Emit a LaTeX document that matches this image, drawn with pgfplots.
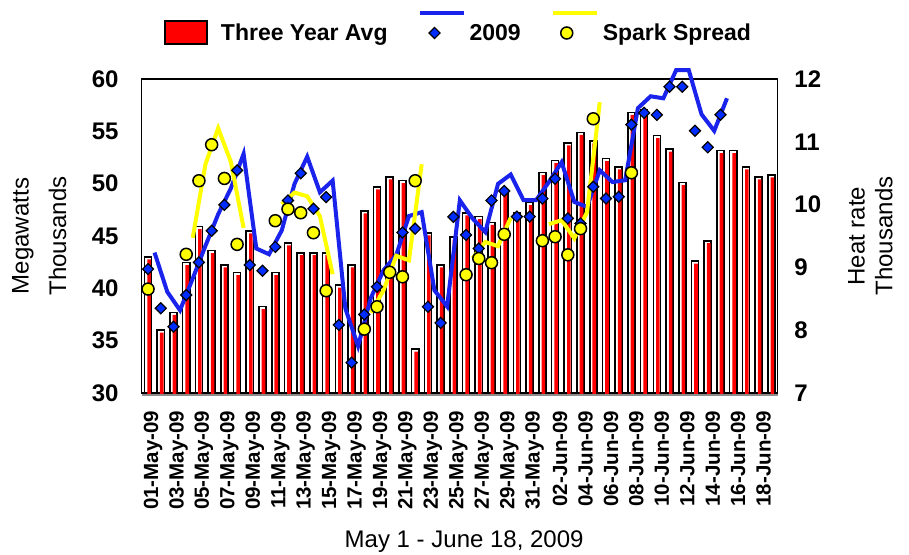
\documentclass[border=0pt]{standalone}
\usepackage{fontspec}
\setmainfont{Liberation Sans}
\usepackage{pgfplots}
\usepackage{pgfplotstable}
\pgfplotsset{compat=1.18}

\definecolor{barred}{RGB}{255,0,0}
\definecolor{lineblue}{RGB}{25,35,235}
\definecolor{diablue}{RGB}{0,45,255}
\definecolor{sparkyel}{RGB}{255,255,0}

% three year average, thousands of MW (01-May .. 19-Jun)
\pgfplotstableread{
idx avg
0 43.0
1 36.0
2 37.7
3 42.45
4 45.9
5 43.6
6 42.25
7 41.5
8 45.5
9 38.25
10 41.5
11 44.35
12 43.4
13 43.4
14 43.4
15 40.3
16 42.25
17 47.4
18 49.7
19 50.65
20 50.3
21 34.2
22 45.3
23 42.25
24 44.9
25 47.2
26 46.85
27 46.3
28 49.3
29 47.2
30 48.2
31 51.05
32 52.2
33 53.9
34 54.9
35 54.1
36 52.4
37 51.6
38 56.8
39 57.1
40 54.6
41 53.3
42 50.1
43 42.6
44 44.55
45 53.15
46 53.15
47 51.6
48 50.66
49 50.85
}\avgtable

% 2009
\pgfplotstableread{
idx mw
0 41.84
1 38.09
2 36.33
3 39.36
4 42.48
5 45.5
6 47.98
7 51.27
8 42.23
9 41.68
10 43.96
11 48.4
12 51.0
13 47.6
14 48.72
15 36.5
16 32.9
17 37.5
18 40.15
19 41.6
20 45.33
21 45.7
22 38.24
23 36.69
24 46.83
25 45.1
26 43.8
27 48.4
28 49.3
29 46.85
30 46.85
31 48.58
32 50.47
33 46.68
34 46.2
35 49.7
36 48.58
37 48.75
38 55.64
39 56.77
40 56.58
41 59.26
42 59.26
43 55.05
44 53.47
45 56.58
}\loadtable

% spark spread, gaps where no value
\pgfplotstableread{
idx spark
0 39.93
1 nan
2 nan
3 43.25
4 50.28
5 53.72
6 50.5
7 44.2
8 nan
9 nan
10 46.46
11 47.57
12 47.22
13 45.31
14 39.77
15 nan
16 nan
17 36.1
18 38.24
19 41.53
20 41.1
21 50.28
22 nan
23 nan
24 nan
25 41.3
26 42.85
27 42.45
28 45.16
29 nan
30 nan
31 44.55
32 44.93
33 43.2
34 45.7
35 56.2
36 nan
37 nan
38 51.04
}\sparktable

\pgfplotsset{
  base/.style={
    scale only axis, width=636pt, height=314pt,
    at={(141.7pt,161pt)}, anchor=south west,
    xmin=-0.5, xmax=49.5,
    xtick style={draw=none}, ytick style={draw=none},
    /pgf/number format/assume math mode=true,
  },
}

\begin{document}
\begin{tikzpicture}
\useasboundingbox (0,0) rectangle (909pt,554pt);

% bars + left axis
\begin{axis}[base,
    ymin=30, ymax=60, ytick={30,35,...,60},
    axis line style={line width=1.5pt},
    yticklabel style={font=\bfseries\fontsize{24}{28}\selectfont, inner sep=0pt},
    yticklabel shift=23pt,
    xtick={0,2,...,48},
    xticklabels={01-May-09,03-May-09,05-May-09,07-May-09,09-May-09,11-May-09,13-May-09,15-May-09,17-May-09,19-May-09,21-May-09,23-May-09,25-May-09,27-May-09,29-May-09,31-May-09,02-Jun-09,04-Jun-09,06-Jun-09,08-Jun-09,10-Jun-09,12-Jun-09,14-Jun-09,16-Jun-09,18-Jun-09},
    xticklabel style={xshift=5pt, rotate=90, anchor=east, inner sep=0pt,
      font=\bfseries\fontsize{20.5}{24}\selectfont},
    xticklabel shift=17.5pt,
    ylabel={Megawatts\\[10pt]Thousands},
    ylabel style={at={(axis description cs:-0.118,0.5)}, anchor=south,
      align=center, inner sep=0pt, font=\fontsize{24}{27.6}\selectfont},
    xlabel={May 1 - June 18, 2009},
    xlabel style={at={(axis description cs:0.507,-0.4936)}, anchor=base,
      inner sep=0pt, font=\fontsize{24}{27.6}\selectfont},
    after end axis/.code={
      \draw[black!45, line width=1.6pt]
        ([yshift=-2.2pt]rel axis cs:0,0) -- ([yshift=-2.2pt]rel axis cs:1,0);},
  ]
  \addplot[ybar, bar width=7.1pt, bar shift=0pt, fill=white, draw=black,
    line width=1.6pt] table[x=idx, y=avg] {\avgtable};
  \addplot[ybar, bar width=3.6pt, bar shift=1pt, fill=barred, draw=none,
    yshift=-2.5pt] table[x=idx, y=avg] {\avgtable};
\end{axis}

% 2009 and spark spread series, no clipping
\begin{axis}[base,
    ymin=30, ymax=60, clip=false,
    hide axis, unbounded coords=jump,
    legend style={at={(axis description cs:0.0351,1.1465)}, anchor=west,
      draw=none, fill=none, inner sep=0pt,
      font=\bfseries\fontsize{23}{27}\selectfont,
      nodes={inner sep=0pt},
      column sep=4pt,
      /tikz/every even column/.append style={column sep=30pt}},
    legend columns=3,
  ]
  \addplot[forget plot, lineblue, line width=4pt, xshift=6.5pt, yshift=16.5pt]
    table[x=idx, y=mw] {\loadtable};
  \addplot[forget plot, only marks, mark=square*, mark size=3.9pt,
    mark options={rotate=45, fill=diablue, draw=black, line width=1.2pt}]
    table[x=idx, y=mw] {\loadtable};
  \addplot[forget plot, sparkyel, line width=4pt, xshift=6.5pt, yshift=16.5pt]
    table[x=idx, y=spark] {\sparktable};
  \addplot[forget plot, only marks, mark=*, mark size=6pt,
    mark options={fill=sparkyel, draw=black, line width=1.5pt}]
    table[x=idx, y=spark] {\sparktable};

  \addlegendimage{legend image code/.code={
    \draw[fill=barred, draw=black, line width=1.5pt] (0pt,-11pt) rectangle (42pt,12pt);
    \path[draw=none] (52pt,-22pt) (52pt,22pt);}}
  \addlegendentry{Three Year Avg}
  \addlegendimage{legend image code/.code={
    \draw[lineblue, line width=4pt] (0pt,20pt) -- (44pt,20pt);
    \path[draw=none] (0pt,-22pt);
    \path plot[mark=square*, mark size=3.9pt,
      mark options={rotate=45, fill=diablue, draw=black, line width=1.2pt}]
      coordinates {(15pt,0pt)};}}
  \addlegendentry{2009}
  \addlegendimage{legend image code/.code={
    \draw[sparkyel, line width=4pt] (0pt,20pt) -- (44pt,20pt);
    \path[draw=none] (0pt,-22pt);
    \path plot[mark=*, mark size=6pt,
      mark options={fill=sparkyel, draw=black, line width=1.5pt}]
      coordinates {(14pt,0pt)};}}
  \addlegendentry{Spark Spread}
\end{axis}

% right axis
\begin{axis}[base,
    ymin=7, ymax=12, ytick={7,8,...,12},
    axis x line=none, axis y line*=right,
    axis line style={draw=none},
    yticklabel style={font=\bfseries\fontsize{24}{28}\selectfont, inner sep=0pt},
    yticklabel shift=16.5pt,
    ylabel={Heat rate\\Thousands},
    ylabel style={at={(axis description cs:1.1105,0.5)}, anchor=north, rotate=0,
      align=center, inner sep=0pt, font=\fontsize{24}{27.6}\selectfont},
  ]
\end{axis}
\end{tikzpicture}
\end{document}
